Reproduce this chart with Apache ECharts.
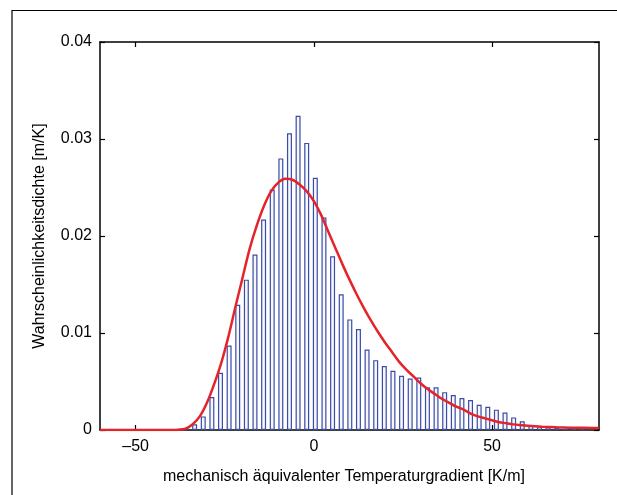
<!DOCTYPE html>
<html>
<head>
<meta charset="utf-8">
<script src="https://cdn.jsdelivr.net/npm/echarts@6/dist/echarts.min.js"></script>
<style>
  html, body { margin: 0; padding: 0; background: #ffffff; }
  #chart { width: 617px; height: 495px; }
</style>
</head>
<body>
<div id="chart"></div>
<script>
// Histogram bins: centre of the first bin and common bin width [K/m]
const firstBinCenter = -38.29;
const binWidth = 2.419;

// Empirical probability density per bin [m/K]
const density = [
  0.0001, 0.0002, 0.0006, 0.0014, 0.0034, 0.0059, 0.0087, 0.0129, 0.0155, 0.0181,
  0.0217, 0.0248, 0.0280, 0.0306, 0.0324, 0.0296, 0.0260, 0.0219, 0.0179, 0.0140,
  0.0114, 0.0104, 0.0083, 0.0072, 0.0066, 0.0061, 0.0056, 0.0053, 0.0054, 0.0044,
  0.0044, 0.0039, 0.0036, 0.0033, 0.0031, 0.0026, 0.0024, 0.0021, 0.0018, 0.0013,
  0.0009, 0.0005, 0.0004, 0.0003, 0.0002, 0.00013, 0.0001, 0.00008
];

// Fitted density curve
const fitX = [
  -60, -40, -38, -36, -34, -32, -30, -28, -26, -24, -22, -20, -18, -16, -14, -12, -10, -8, -6, -4,
  -2, 0, 2, 4, 6, 8, 10, 12, 14, 16, 18, 20, 22, 24, 26, 28, 30, 32, 34, 36,
  38, 40, 42, 44, 46, 48, 50, 52, 54, 56, 58, 60, 64, 68, 72, 76, 80
];
const fitY = [
  0, 0, 0.00003, 0.00015, 0.0006, 0.0014, 0.0028, 0.0047, 0.0069, 0.0096, 0.0127, 0.0157, 0.0187, 0.0211, 0.0231, 0.0246, 0.0255, 0.0259, 0.0258, 0.0253,
  0.0246, 0.0236, 0.0222, 0.0205, 0.0188, 0.0171, 0.0155, 0.0140, 0.0126, 0.0113, 0.0101, 0.0090, 0.0080, 0.0070, 0.0062, 0.0055, 0.0048, 0.0042, 0.0037, 0.0032,
  0.0028, 0.0024, 0.0021, 0.0017, 0.0014, 0.0012, 0.0010, 0.0008, 0.0007, 0.00058, 0.0005, 0.00043, 0.00034, 0.00028, 0.00024, 0.00022, 0.0002
];

const xTicks = [-50, 0, 50];

const xTitle = 'mechanisch äquivalenter Temperaturgradient [K/m]';
const yTitle = 'Wahrscheinlichkeitsdichte [m/K]';

const FONT = "'Liberation Sans', Arial, Helvetica, sans-serif";

const barData = density.map((v, i) => [firstBinCenter + i * binWidth, v]);
const fitData = fitX.map((x, i) => [x, fitY[i]]);

const axisLine = { show: true, onZero: false, lineStyle: { color: '#000', width: 1.5 } };
const tickStyle = { color: '#000', width: 1.2 };

const chart = echarts.init(document.getElementById('chart'), null, { renderer: 'canvas' });
chart.setOption({
  animation: false,
  backgroundColor: '#ffffff',
  grid: { left: 100, top: 42, right: 18, bottom: 65, containLabel: false },
  xAxis: [
    {
      type: 'value', min: -60, max: 80, position: 'bottom',
      axisLine: axisLine,
      axisTick: { show: true, inside: true, length: 5, customValues: xTicks, lineStyle: tickStyle },
      axisLabel: {
        customValues: xTicks, color: '#000', fontSize: 16, fontFamily: FONT, margin: 9,
        formatter: v => (v < 0 ? '\u2013' + Math.abs(v) : String(v))
      },
      splitLine: { show: false }
    },
    {
      type: 'value', min: -60, max: 80, position: 'top',
      axisLine: axisLine,
      axisTick: { show: true, inside: true, length: 5, customValues: xTicks, lineStyle: tickStyle },
      axisLabel: { show: false },
      splitLine: { show: false }
    }
  ],
  yAxis: [
    {
      type: 'value', min: 0, max: 0.04, interval: 0.01, position: 'left',
      axisLine: axisLine,
      axisTick: { show: true, inside: true, length: 5, lineStyle: tickStyle },
      axisLabel: {
        color: '#000', fontSize: 16, fontFamily: FONT, margin: 8,
        formatter: v => (v === 0 ? '0' : v.toFixed(2))
      },
      splitLine: { show: false }
    },
    {
      type: 'value', min: 0, max: 0.04, interval: 0.01, position: 'right',
      axisLine: axisLine,
      axisTick: { show: true, inside: true, length: 5, lineStyle: tickStyle },
      axisLabel: { show: false },
      splitLine: { show: false }
    }
  ],
  series: [
    {
      type: 'bar',
      xAxisIndex: 0, yAxisIndex: 0,
      barWidth: 5,
      data: barData,
      itemStyle: { color: '#f6f7fc', borderColor: '#3a4ca6', borderWidth: 1.2 },
      z: 2
    },
    {
      type: 'line',
      xAxisIndex: 0, yAxisIndex: 0,
      data: fitData,
      showSymbol: false,
      smooth: 0.3,
      lineStyle: { color: '#e5232a', width: 2.5 },
      z: 3
    }
  ],
  graphic: [
    {
      type: 'rect', silent: true,
      shape: { x: 12, y: 10.5, width: 700, height: 600 },
      style: { fill: 'none', stroke: '#000', lineWidth: 1.2 }
    },
    {
      type: 'text', silent: true,
      x: 344, y: 477,
      style: { text: xTitle, fill: '#000', font: '16px ' + FONT, textAlign: 'center', textVerticalAlign: 'middle' }
    },
    {
      type: 'text', silent: true,
      x: 40, y: 236, rotation: Math.PI / 2,
      style: { text: yTitle, fill: '#000', font: '16px ' + FONT, textAlign: 'center', textVerticalAlign: 'middle' }
    }
  ]
});
</script>
</body>
</html>
